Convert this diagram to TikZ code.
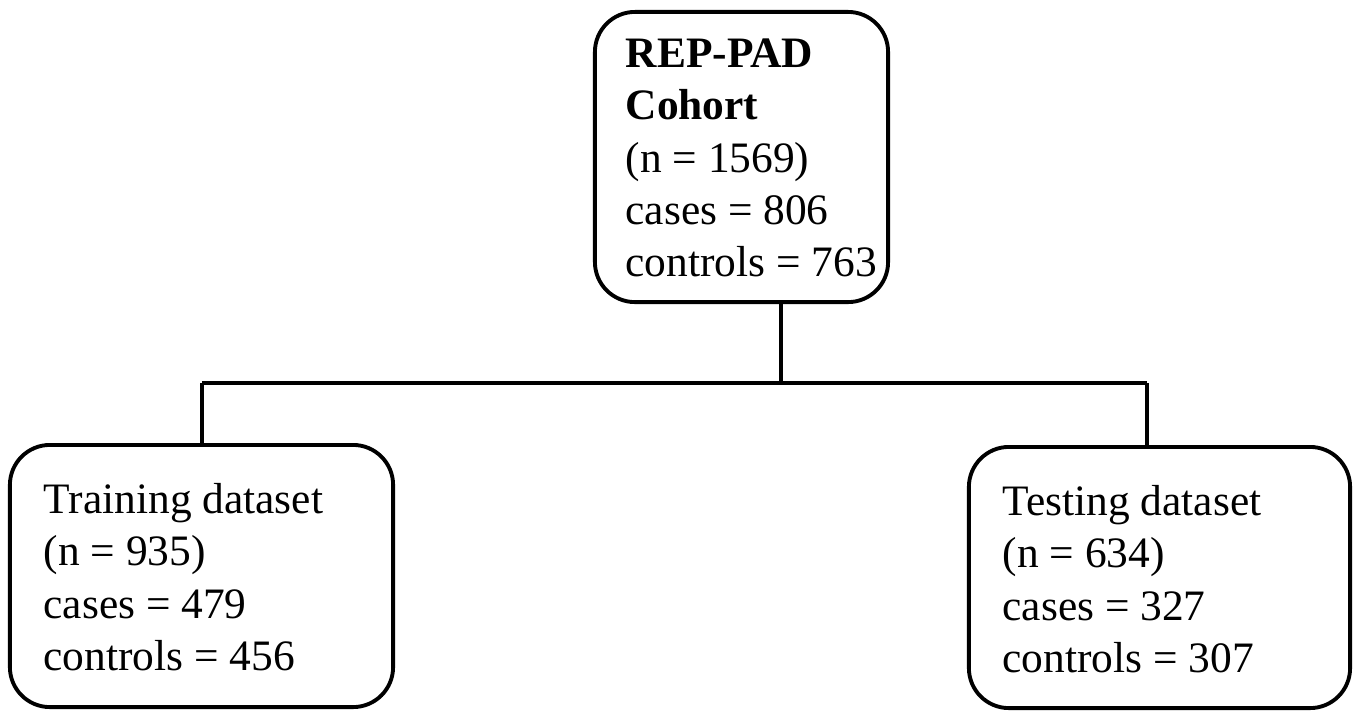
\documentclass[tikz,border=0pt]{standalone}
\usepackage{fontspec}
\setmainfont{Liberation Serif}
\begin{document}
\begin{tikzpicture}[x=0.01cm,y=-0.01cm]
\tikzset{
  box/.style={draw, line width=1.1pt, rounded corners=0.4cm, inner sep=0pt, anchor=center},
  label/.style={align=left, anchor=west, inner sep=0pt, font=\fontsize{12.35}{14.9}\selectfont},
  conn/.style={line width=0.9pt}
}
\useasboundingbox (0,0) rectangle (1360,711);
\node[box, minimum width=2.93cm, minimum height=2.90cm] (top) at (741.5,157) {};
\node[box, minimum width=3.83cm, minimum height=2.62cm] (left) at (201.5,576) {};
\node[box, minimum width=3.81cm, minimum height=2.61cm] (right) at (1159.5,577.5) {};
\node[label] (toptext) at (625,158) {\textbf{REP-PAD}\\\textbf{Cohort}\\(n = 1569)\\cases = 806\\controls = 763};
\node[label] (lefttext) at (43,577) {Training dataset\\(n = 935)\\cases = 479\\controls = 456};
\node[label] (righttext) at (1002,579) {Testing dataset\\(n = 634)\\cases = 327\\controls = 307};
\coordinate (hl) at (202,383);
\coordinate (hr) at (1147,383);
\coordinate (hm) at (781,383);
\draw[conn] (top.south -| hm) -- (hm);
\draw[conn] (hl) -- (hr);
\draw[conn] (hl) -- (left.north -| hl);
\draw[conn] (hr) -- (right.north -| hr);
\end{tikzpicture}
\end{document}
